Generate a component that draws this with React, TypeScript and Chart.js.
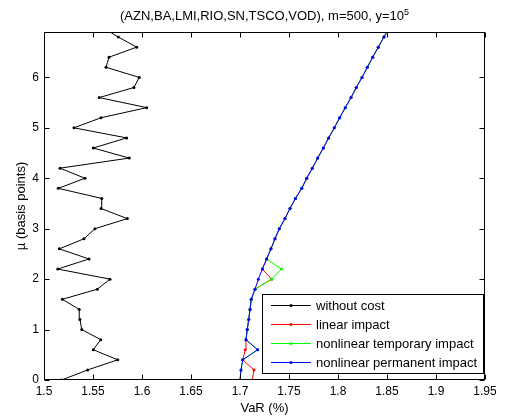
import React, { useEffect, useRef } from 'react';
import { Chart, registerables } from 'chart.js';
Chart.register(...registerables);

const TITLE_MAIN = '(AZN,BA,LMI,RIO,SN,TSCO,VOD), m=500, y=10';
const TITLE_SUP = '5';
const X_TITLE = 'VaR (%)';
const Y_TITLE = 'µ (basis points)';

const MU = [0, 0.2, 0.4, 0.6, 0.8, 1.0, 1.2, 1.4, 1.6, 1.8, 2.0, 2.2, 2.4, 2.6, 2.8, 3.0, 3.2, 3.4, 3.6, 3.8, 4.0, 4.2, 4.4, 4.6, 4.8, 5.0, 5.2, 5.4, 5.6, 5.8, 6.0, 6.2, 6.4, 6.6, 6.8, 7.0];

const WITHOUT_COST = [1.518, 1.5446, 1.5752, 1.5503, 1.5579, 1.5385, 1.5367, 1.536, 1.5187, 1.5544, 1.5673, 1.514, 1.5459, 1.5156, 1.5408, 1.552, 1.585, 1.5582, 1.5589, 1.5146, 1.5418, 1.5163, 1.587, 1.5503, 1.5844, 1.5306, 1.5582, 1.6048, 1.5564, 1.5918, 1.5972, 1.5633, 1.5663, 1.5946, 1.5758, 1.559];

const LINEAR_IMPACT = [1.7125, 1.7143, 1.7028, 1.7054, 1.7061, 1.7074, 1.7089, 1.7102, 1.7115, 1.7153, 1.7323, 1.7228, 1.7272, 1.7316, 1.7357, 1.7401, 1.7459, 1.751, 1.7566, 1.763, 1.7681, 1.7738, 1.7793, 1.785, 1.7905, 1.7962, 1.8017, 1.8074, 1.8133, 1.8187, 1.8245, 1.8299, 1.8354, 1.8411, 1.8469, 1.8526];

const NONLINEAR_TEMPORARY = [1.7, 1.701, 1.7028, 1.718, 1.7061, 1.7074, 1.7089, 1.7102, 1.7115, 1.7153, 1.7323, 1.7422, 1.7272, 1.7316, 1.7357, 1.7401, 1.7459, 1.751, 1.7566, 1.763, 1.7681, 1.7738, 1.7793, 1.785, 1.7905, 1.7962, 1.8017, 1.8074, 1.8133, 1.8187, 1.8245, 1.8299, 1.8354, 1.8411, 1.8469, 1.8526];

const NONLINEAR_PERMANENT = [1.7, 1.701, 1.7028, 1.718, 1.7061, 1.7074, 1.7089, 1.7102, 1.7115, 1.7153, 1.7187, 1.7228, 1.7272, 1.7316, 1.7357, 1.7401, 1.7459, 1.751, 1.7566, 1.763, 1.7681, 1.7738, 1.7793, 1.785, 1.7905, 1.7962, 1.8017, 1.8074, 1.8133, 1.8187, 1.8245, 1.8299, 1.8354, 1.8411, 1.8469, 1.8526];

const SERIES_LABELS = ['without cost', 'linear impact', 'nonlinear temporary impact', 'nonlinear permanent impact'];
const SERIES_COLORS = ['#000000', '#ff0000', '#00ff00', '#0000ff'];

const X_TICKS = [1.5, 1.55, 1.6, 1.65, 1.7, 1.75, 1.8, 1.85, 1.9, 1.95];
const X_TICK_LABELS = ['1.5', '1.55', '1.6', '1.65', '1.7', '1.75', '1.8', '1.85', '1.9', '1.95'];
const Y_TICKS = [0, 1, 2, 3, 4, 5, 6];
const Y_TICK_LABELS = ['0', '1', '2', '3', '4', '5', '6'];

const X_MIN = 1.5;
const X_MAX = 1.95;
const Y_MIN = 0;
const Y_MAX = 6.9;

const FONT_FAMILY = "'Liberation Sans', Arial, Helvetica, sans-serif";

const decorPlugin = {
  id: 'matlabDecor',
  afterDraw(chart: any) {
    const ctx = chart.ctx as CanvasRenderingContext2D;
    const a = chart.chartArea;
    const xs = chart.scales.x;
    const ys = chart.scales.y;
    const L = Math.round(a.left) + 0.5;
    const R = Math.round(a.right) - 0.5;
    const T = Math.round(a.top) + 0.5;
    const B = Math.round(a.bottom) - 0.5;
    const tl = 5;
    ctx.save();
    ctx.strokeStyle = '#000';
    ctx.lineWidth = 1;
    ctx.beginPath();
    X_TICKS.forEach((v) => {
      const px = Math.round(xs.getPixelForValue(v)) + 0.5;
      ctx.moveTo(px, B);
      ctx.lineTo(px, B - tl);
      ctx.moveTo(px, T);
      ctx.lineTo(px, T + tl);
    });
    Y_TICKS.forEach((v) => {
      const py = Math.round(ys.getPixelForValue(v)) + 0.5;
      ctx.moveTo(L, py);
      ctx.lineTo(L + tl, py);
      ctx.moveTo(R, py);
      ctx.lineTo(R - tl, py);
    });
    ctx.stroke();
    ctx.strokeRect(L, T, R - L, B - T);

    // legend
    const lx = 262.5, ly = 294.5, lw = 221, lh = 79;
    ctx.fillStyle = '#fff';
    ctx.fillRect(lx, ly, lw, lh);
    ctx.strokeStyle = '#000';
    ctx.lineWidth = 1;
    ctx.strokeRect(lx, ly, lw, lh);
    ctx.font = `13px ${FONT_FAMILY}`;
    ctx.textBaseline = 'middle';
    ctx.textAlign = 'left';
    chart.data.datasets.forEach((ds: any, i: number) => {
      const ry = 305.5 + i * 19;
      ctx.strokeStyle = ds.borderColor;
      ctx.beginPath();
      ctx.moveTo(271, ry);
      ctx.lineTo(311, ry);
      ctx.stroke();
      ctx.fillStyle = ds.borderColor;
      ctx.beginPath();
      ctx.arc(291, ry, 1.5, 0, Math.PI * 2);
      ctx.fill();
      ctx.fillStyle = '#000';
      ctx.fillText(ds.label, 316, ry + 0.5);
    });

    // title with superscript
    ctx.fillStyle = '#000';
    ctx.textBaseline = 'alphabetic';
    ctx.font = `13px ${FONT_FAMILY}`;
    const wMain = ctx.measureText(TITLE_MAIN).width;
    ctx.font = `9px ${FONT_FAMILY}`;
    const wSup = ctx.measureText(TITLE_SUP).width;
    const cx = (a.left + a.right) / 2;
    const startX = cx - (wMain + wSup) / 2;
    ctx.font = `13px ${FONT_FAMILY}`;
    ctx.textAlign = 'left';
    ctx.fillText(TITLE_MAIN, startX, 19.5);
    ctx.font = `9px ${FONT_FAMILY}`;
    ctx.fillText(TITLE_SUP, startX + wMain, 15);

    // x axis title
    ctx.font = `13px ${FONT_FAMILY}`;
    ctx.textAlign = 'center';
    ctx.fillText(X_TITLE, cx, 411.5);

    // y axis title
    ctx.translate(21, (a.top + a.bottom) / 2);
    ctx.rotate(-Math.PI / 2);
    ctx.textBaseline = 'middle';
    ctx.fillText(Y_TITLE, 0, 0);
    ctx.restore();
  },
};

export default function App() {
  const ref = useRef<HTMLCanvasElement>(null);
  useEffect(() => {
    const mk = (vals: number[], i: number) => ({
      label: SERIES_LABELS[i],
      data: MU.map((m, k) => ({ x: vals[k], y: m })),
      borderColor: SERIES_COLORS[i],
      backgroundColor: SERIES_COLORS[i],
      borderWidth: 1,
      pointRadius: 1.5,
      pointBorderWidth: 0,
      pointHoverRadius: 1.5,
      showLine: true,
      tension: 0,
      fill: false,
      order: 3 - i,
    });
    const font = { family: FONT_FAMILY, size: 12 };
    const chart = new Chart(ref.current as HTMLCanvasElement, {
      type: 'scatter',
      data: {
        datasets: [
          mk(WITHOUT_COST, 0),
          mk(LINEAR_IMPACT, 1),
          mk(NONLINEAR_TEMPORARY, 2),
          mk(NONLINEAR_PERMANENT, 3),
        ],
      },
      options: {
        animation: false,
        responsive: false,
        devicePixelRatio: 1,
        layout: { padding: { left: 0, right: 20, top: 32, bottom: 0 } },
        plugins: {
          legend: { display: false },
          title: { display: false },
          tooltip: { enabled: false },
        },
        events: [],
        scales: {
          x: {
            type: 'linear',
            min: X_MIN,
            max: X_MAX,
            grid: { display: false, drawTicks: false, tickLength: 0 },
            border: { display: false },
            ticks: {
              padding: 4,
              color: '#000',
              font,
              autoSkip: false,
              maxRotation: 0,
              callback: (v: any) => {
                const i = X_TICKS.findIndex((t) => Math.abs(t - Number(v)) < 1e-9);
                return i >= 0 ? X_TICK_LABELS[i] : '';
              },
            },
            afterBuildTicks: (s: any) => {
              s.ticks = X_TICKS.map((v) => ({ value: v }));
            },
            afterFit: (s: any) => {
              s.height = 39;
            },
          },
          y: {
            type: 'linear',
            min: Y_MIN,
            max: Y_MAX,
            grid: { display: false, drawTicks: false, tickLength: 0 },
            border: { display: false },
            ticks: {
              padding: 5,
              color: '#000',
              font,
              autoSkip: false,
              callback: (v: any) => {
                const i = Y_TICKS.findIndex((t) => Math.abs(t - Number(v)) < 1e-9);
                return i >= 0 ? Y_TICK_LABELS[i] : '';
              },
            },
            afterBuildTicks: (s: any) => {
              s.ticks = Y_TICKS.map((v) => ({ value: v }));
            },
            afterFit: (s: any) => {
              s.width = 44;
            },
          },
        },
      } as any,
      plugins: [decorPlugin],
    });
    return () => chart.destroy();
  }, []);
  return (
    <div style={{ position: 'fixed', left: 0, top: 0, width: 505, height: 419, background: '#fff' }}>
      <canvas ref={ref} width={505} height={419} style={{ display: 'block', width: 505, height: 419 }} />
    </div>
  );
}
